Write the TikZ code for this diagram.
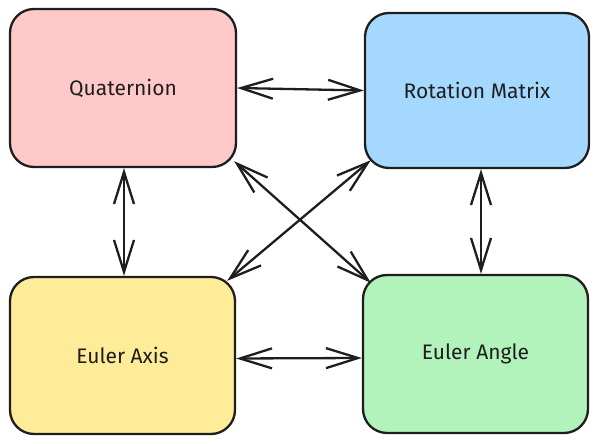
\documentclass[tikz,border=0pt]{standalone}
\usepackage{fontspec}
\setmainfont{Fira Sans}
\usetikzlibrary{arrows.meta}
\definecolor{pinkc}{HTML}{FFC9C9}
\definecolor{bluec}{HTML}{A5D8FF}
\definecolor{yellowc}{HTML}{FFEC99}
\definecolor{greenc}{HTML}{B2F2BB}
\definecolor{inkc}{HTML}{1E1E1E}
\tikzset{
  box/.style={draw=inkc, line width=2.3pt, rounded corners=24pt, inner sep=0pt,
    font=\fontsize{21}{23}\selectfont, text=inkc},
  barb/.tip={Straight Barb[length=32pt,width=20pt,line width=2.3pt]},
  link/.style={draw=inkc, line width=2.3pt, line cap=round, barb-barb}
}
\begin{document}
\begin{tikzpicture}[x=1pt,y=1pt]
\useasboundingbox (0,0) rectangle (600,444);
\node[box, fill=pinkc, minimum width=226pt, minimum height=158pt] (q) at (123,356) {Quaternion};
\node[box, fill=bluec, minimum width=224pt, minimum height=155pt] (r) at (477,353.5) {Rotation Matrix};
\node[box, fill=yellowc, minimum width=225pt, minimum height=157pt] (a) at (122.5,88.5) {Euler Axis};
\node[box, fill=greenc, minimum width=225pt, minimum height=158pt] (g) at (475.5,90) {Euler Angle};
\draw[link] (q.east) -- (r.west);
\draw[link] ([yshift=-3pt]a.east) -- ([yshift=-4pt]g.west);
\draw[link] ([xshift=1pt]q.south) -- ([xshift=1.5pt]a.north);
\draw[link] ([xshift=4pt]r.south) -- ([xshift=5.5pt]g.north);
\draw[link] ([shift={(-3pt,7pt)}]q.south east) -- ([shift={(9pt,-9pt)}]g.north west);
\draw[link] ([shift={(7pt,9pt)}]r.south west) -- ([shift={(-9pt,-5pt)}]a.north east);
\end{tikzpicture}
\end{document}
